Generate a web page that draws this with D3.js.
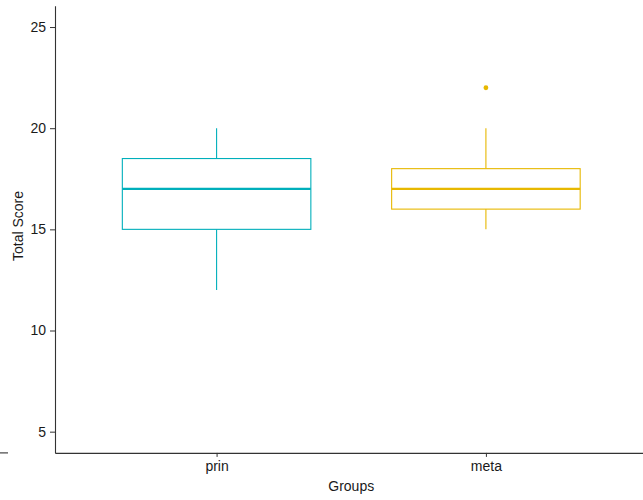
<!DOCTYPE html>
<html>
<head>
<meta charset="utf-8">
<script src="https://cdn.jsdelivr.net/npm/d3@7"></script>
<style>
  html, body { margin: 0; padding: 0; background: #ffffff; }
  svg { display: block; }
  svg text { font-family: "Liberation Sans", Arial, sans-serif; }
</style>
</head>
<body>
<svg id="chart" width="643" height="500"></svg>
<script>
// Summary statistics for each group (Total Score)
const groups   = ["prin", "meta"];
const q1       = [15, 16];
const medians  = [17, 17];
const q3       = [18.5, 18];
const whiskLo  = [12, 15];
const whiskHi  = [20, 20];
const outliers = [[], [22]];
const colors   = ["#00AFBB", "#E7B800"];
const yTicks   = [5, 10, 15, 20, 25];

const svg = d3.select("#chart");
const plotLeft = 55, plotRight = 647.5, plotTop = 5.8, plotBottom = 452.9;
const fontFamily = "Liberation Sans, Arial, sans-serif";

// Discrete x positions with 0.6 expansion on each side
const x = d3.scaleLinear().domain([0.4, 2.6]).range([plotLeft, plotRight]);
const y = d3.scaleLinear().domain([3.95, 26.05]).range([plotBottom, plotTop]);
const boxW = 0.7;

// Y axis
const yAxis = d3.axisLeft(y).tickValues(yTicks).tickSize(5).tickPadding(4).tickSizeOuter(0);
const gy = svg.append("g").attr("transform", `translate(${plotLeft},0)`).call(yAxis)
  .attr("font-family", fontFamily).attr("font-size", 14);
gy.select(".domain").attr("stroke", "#333").attr("stroke-width", 1.1);
gy.selectAll(".tick line").attr("stroke", "#333");
gy.selectAll(".tick text").attr("fill", "#1a1a1a");

// X axis
const xAxis = d3.axisBottom(x).tickValues([1, 2]).tickFormat((d) => groups[d - 1])
  .tickSize(4).tickPadding(4).tickSizeOuter(0);
const gx = svg.append("g").attr("transform", `translate(0,${plotBottom})`).call(xAxis)
  .attr("font-family", fontFamily).attr("font-size", 14);
gx.select(".domain").attr("stroke", "#333").attr("stroke-width", 1.1);
gx.selectAll(".tick line").attr("stroke", "#333");
gx.selectAll(".tick text").attr("fill", "#1a1a1a");

// short rule at the far left of the baseline
svg.append("line")
  .attr("x1", 0).attr("x2", 8).attr("y1", plotBottom).attr("y2", plotBottom)
  .attr("stroke", "#333").attr("stroke-width", 1.1);

// Boxplots
groups.forEach((g, i) => {
  const cx = x(i + 1);
  const x0 = x(i + 1 - boxW / 2), x1 = x(i + 1 + boxW / 2);
  const col = colors[i];
  const bg = svg.append("g").attr("fill", "none").attr("stroke", col);
  // whiskers
  bg.append("line").attr("x1", cx).attr("x2", cx)
    .attr("y1", y(whiskHi[i])).attr("y2", y(q3[i])).attr("stroke-width", 1.1);
  bg.append("line").attr("x1", cx).attr("x2", cx)
    .attr("y1", y(q1[i])).attr("y2", y(whiskLo[i])).attr("stroke-width", 1.1);
  // box
  bg.append("rect").attr("x", x0).attr("y", y(q3[i]))
    .attr("width", x1 - x0).attr("height", y(q1[i]) - y(q3[i]))
    .attr("fill", "#ffffff").attr("stroke-width", 1.1);
  // median
  bg.append("line").attr("x1", x0).attr("x2", x1)
    .attr("y1", y(medians[i])).attr("y2", y(medians[i])).attr("stroke-width", 2.2);
  // outliers
  outliers[i].forEach((v) => {
    svg.append("circle").attr("cx", cx).attr("cy", y(v)).attr("r", 2.4).attr("fill", col);
  });
});

// Axis titles
svg.append("text")
  .attr("x", (plotLeft + plotRight) / 2).attr("y", 491)
  .attr("text-anchor", "middle").attr("font-size", 14).attr("fill", "#1a1a1a")
  .text("Groups");
svg.append("text")
  .attr("transform", `translate(23,226) rotate(-90)`)
  .attr("text-anchor", "middle").attr("font-size", 14).attr("fill", "#1a1a1a")
  .text("Total Score");
</script>
</body>
</html>
